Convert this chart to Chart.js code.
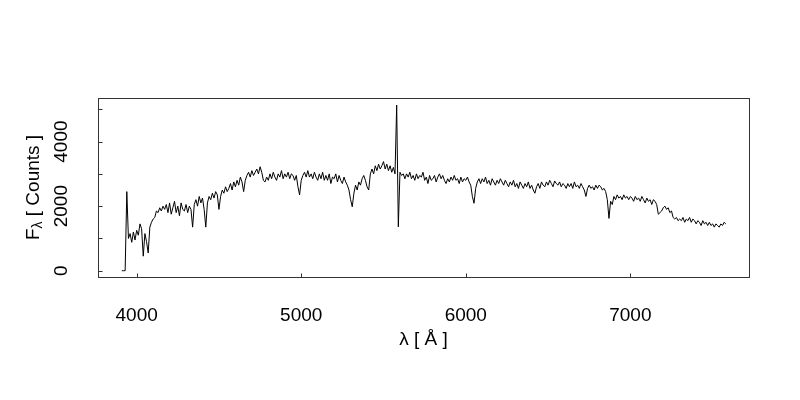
<!DOCTYPE html>
<html>
<head>
<meta charset="utf-8">
<script src="https://cdn.jsdelivr.net/npm/chart.js@4"></script>
<style>
  html, body { margin: 0; padding: 0; background: #fff; }
  #wrap { width: 800px; height: 400px; }
</style>
</head>
<body>
<div id="wrap"><canvas id="spectre" width="800" height="400"></canvas></div>
<script>
// ========== DATA ==========
// wavelength (Angstrom)
const wavelength = [
  3910, 3920, 3930, 3940, 3950, 3960, 3970, 3980, 3990, 4000,
  4010, 4020, 4030, 4040, 4050, 4060, 4070, 4080, 4090, 4100,
  4110, 4120, 4130, 4140, 4150, 4160, 4170, 4180, 4190, 4200,
  4210, 4220, 4230, 4240, 4250, 4260, 4270, 4280, 4290, 4300,
  4310, 4320, 4330, 4340, 4350, 4360, 4370, 4380, 4390, 4400,
  4410, 4420, 4430, 4440, 4450, 4460, 4470, 4480, 4490, 4500,
  4510, 4520, 4530, 4540, 4550, 4560, 4570, 4580, 4590, 4600,
  4610, 4620, 4630, 4640, 4650, 4660, 4670, 4680, 4690, 4700,
  4710, 4720, 4730, 4740, 4750, 4760, 4770, 4780, 4790, 4800,
  4810, 4820, 4830, 4840, 4850, 4860, 4870, 4880, 4890, 4900,
  4910, 4920, 4930, 4940, 4950, 4960, 4970, 4980, 4990, 5000,
  5010, 5020, 5030, 5040, 5050, 5060, 5070, 5080, 5090, 5100,
  5110, 5120, 5130, 5140, 5150, 5160, 5170, 5180, 5190, 5200,
  5210, 5220, 5230, 5240, 5250, 5260, 5270, 5280, 5290, 5300,
  5310, 5320, 5330, 5340, 5350, 5360, 5370, 5380, 5390, 5400,
  5410, 5420, 5430, 5440, 5450, 5460, 5470, 5480, 5490, 5500,
  5510, 5520, 5530, 5540, 5550, 5560, 5570, 5580, 5590, 5600,
  5610, 5620, 5630, 5640, 5650, 5660, 5670, 5680, 5690, 5700,
  5710, 5720, 5730, 5740, 5750, 5760, 5770, 5780, 5790, 5800,
  5810, 5820, 5830, 5840, 5850, 5860, 5870, 5880, 5890, 5900,
  5910, 5920, 5930, 5940, 5950, 5960, 5970, 5980, 5990, 6000,
  6010, 6020, 6030, 6040, 6050, 6060, 6070, 6080, 6090, 6100,
  6110, 6120, 6130, 6140, 6150, 6160, 6170, 6180, 6190, 6200,
  6210, 6220, 6230, 6240, 6250, 6260, 6270, 6280, 6290, 6300,
  6310, 6320, 6330, 6340, 6350, 6360, 6370, 6380, 6390, 6400,
  6410, 6420, 6430, 6440, 6450, 6460, 6470, 6480, 6490, 6500,
  6510, 6520, 6530, 6540, 6550, 6560, 6570, 6580, 6590, 6600,
  6610, 6620, 6630, 6640, 6650, 6660, 6670, 6680, 6690, 6700,
  6710, 6720, 6730, 6740, 6750, 6760, 6770, 6780, 6790, 6800,
  6810, 6820, 6830, 6840, 6850, 6860, 6870, 6880, 6890, 6900,
  6910, 6920, 6930, 6940, 6950, 6960, 6970, 6980, 6990, 7000,
  7010, 7020, 7030, 7040, 7050, 7060, 7070, 7080, 7090, 7100,
  7110, 7120, 7130, 7140, 7150, 7160, 7170, 7180, 7190, 7200,
  7210, 7220, 7230, 7240, 7250, 7260, 7270, 7280, 7290, 7300,
  7310, 7320, 7330, 7340, 7350, 7360, 7370, 7380, 7390, 7400,
  7410, 7420, 7430, 7440, 7450, 7460, 7470, 7480, 7490, 7500,
  7510, 7520, 7530, 7540, 7550, 7560, 7570, 7580
];

// flux (counts)
const flux = [
  0, 0, 0, 2450, 1000, 1150, 880, 1200, 950, 1250,
  1100, 1450, 1300, 450, 1150, 900, 550, 1350, 1500, 1600,
  1650, 1850, 1800, 1950, 1850, 2000, 1900, 2050, 1800, 2100,
  1750, 1950, 2150, 1800, 2000, 1700, 2100, 1900, 1850, 2050,
  1800, 2000, 1900, 1350, 2050, 2200, 2000, 2300, 2100, 2250,
  1900, 1350, 2100, 2300, 2200, 2400, 2250, 2450, 2350, 1900,
  2300, 2500, 2400, 2600, 2450, 2550, 2700, 2500, 2750, 2600,
  2800, 2650, 2900, 2750, 2450, 2800, 2950, 3050, 2900, 3100,
  2950, 3050, 3150, 3000, 3220, 3050, 2800, 2750, 2900, 2800,
  3000, 2850, 3050, 2900, 2800, 3000, 2900, 3100, 2850, 3000,
  2900, 3050, 2850, 3000, 2950, 2800, 2950, 2600, 2350, 2800,
  2950, 3050, 2900, 3100, 2900, 3000, 2850, 3050, 2900, 2800,
  3000, 2850, 3050, 2800, 2950, 2800, 3000, 2700, 2900, 2850,
  3000, 2750, 2950, 2800, 2700, 2900, 2750, 2650, 2500, 2200,
  1980, 2400, 2650, 2500, 2750, 2650, 2850, 2950, 2800, 2600,
  2500, 3000, 3150, 3000, 3250, 3100, 3300, 3150, 3250, 3380,
  3150, 3300, 3100, 3250, 3050, 3200, 3000, 5130, 1360, 3050,
  2950, 3000, 2850, 3000, 2900, 3050, 2850, 2950, 2800, 3000,
  2850, 2950, 2900, 3050, 2800, 2900, 2700, 2950, 2800, 2850,
  2950, 2750, 2900, 3000, 2850, 2950, 2800, 2700, 2850, 2750,
  2900, 2800, 2950, 2800, 2850, 2700, 2900, 2750, 2850, 2800,
  2900, 2750, 2650, 2300, 2090, 2550, 2750, 2850, 2700, 2850,
  2750, 2900, 2700, 2800, 2650, 2850, 2750, 2650, 2800, 2700,
  2850, 2750, 2650, 2800, 2700, 2600, 2750, 2650, 2800, 2600,
  2700, 2550, 2750, 2650, 2550, 2700, 2600, 2750, 2550, 2650,
  2500, 2400, 2600, 2700, 2550, 2750, 2650, 2600, 2750, 2650,
  2800, 2700, 2600, 2780, 2700, 2650, 2750, 2600, 2700, 2650,
  2550, 2700, 2600, 2700, 2550, 2750, 2600, 2650, 2550, 2700,
  2600, 2500, 2300, 2550, 2650, 2550, 2600, 2500, 2650, 2550,
  2650, 2600, 2500, 2550, 2450, 2200, 1620, 2150, 2050, 2300,
  2200, 2350, 2250, 2300, 2200, 2350, 2250, 2300, 2200, 2300,
  2250, 2150, 2300, 2200, 2250, 2150, 2300, 2200, 2100, 2250,
  2150, 2200, 2050, 2200, 2150, 2050, 1750, 1800, 1850, 1950,
  2000, 1900, 1950, 1800, 1850, 1650, 1600, 1650, 1550, 1600,
  1550, 1650, 1500, 1600, 1550, 1650, 1500, 1600, 1550, 1450,
  1550, 1500, 1400, 1550, 1450, 1500, 1400, 1500, 1400, 1450,
  1350, 1450, 1400, 1350, 1450, 1400, 1500, 1450
];

const xTicks = [4000, 5000, 6000, 7000];
const yTicks = [0, 1000, 2000, 3000, 4000, 5000];
const yTickLabels = [0, 2000, 4000];
const xRange = [3765, 7721];
const yRange = [-195, 5350];

// ========== EIXOS ESTILO R ==========
const FONT = '"Liberation Sans", Arial, Helvetica, sans-serif';

const eixosR = {
  id: "eixosR",
  afterDraw(chart) {
    const ctx = chart.ctx;
    const area = chart.chartArea;
    const sx = chart.scales.x;
    const sy = chart.scales.y;
    const L = Math.round(area.left) + 0.5;
    const R = Math.round(area.right) + 0.5;
    const T = Math.round(area.top) + 0.5;
    const B = Math.round(area.bottom) + 0.5;

    ctx.save();
    ctx.strokeStyle = "#333";
    ctx.lineWidth = 1;
    ctx.strokeRect(L, T, R - L, B - T);

    // ticks para dentro
    ctx.beginPath();
    xTicks.forEach(v => {
      const px = Math.round(sx.getPixelForValue(v)) + 0.5;
      ctx.moveTo(px, B);
      ctx.lineTo(px, B - 4);
    });
    yTicks.forEach(v => {
      const py = Math.round(sy.getPixelForValue(v)) + 0.5;
      ctx.moveTo(L, py);
      ctx.lineTo(L + 4, py);
    });
    ctx.stroke();

    ctx.fillStyle = "#000";
    ctx.font = "19px " + FONT;

    // rótulos x
    ctx.textAlign = "center";
    ctx.textBaseline = "alphabetic";
    xTicks.forEach(v => {
      ctx.fillText(String(v), sx.getPixelForValue(v), 321);
    });

    // rótulos y (girados)
    yTickLabels.forEach(v => {
      ctx.save();
      ctx.translate(67, sy.getPixelForValue(v));
      ctx.rotate(-Math.PI / 2);
      ctx.fillText(String(v), 0, 0);
      ctx.restore();
    });

    // título x
    ctx.fillText("λ [ Å ]", (area.left + area.right) / 2, 345);

    // título y com subscrito
    const cy = (area.top + area.bottom) / 2;
    const big = "19px " + FONT;
    const small = "14px " + FONT;
    ctx.font = big;
    const wF = ctx.measureText("F").width;
    const wRest = ctx.measureText(" [ Counts ]").width;
    ctx.font = small;
    const wSub = ctx.measureText("λ").width;
    const total = wF + wSub + wRest;
    ctx.save();
    ctx.translate(39, cy);
    ctx.rotate(-Math.PI / 2);
    ctx.textAlign = "left";
    let pos = -total / 2;
    ctx.font = big;
    ctx.fillText("F", pos, 0);
    pos += wF;
    ctx.font = small;
    ctx.fillText("λ", pos, 3);
    pos += wSub;
    ctx.font = big;
    ctx.fillText(" [ Counts ]", pos, 0);
    ctx.restore();

    ctx.restore();
  }
};

// ========== GRÁFICO ==========
const pontos = wavelength.map((w, i) => ({ x: w, y: flux[i] }));

const ctx = document.getElementById("spectre").getContext("2d");
new Chart(ctx, {
  type: "line",
  data: {
    datasets: [{
      data: pontos,
      borderColor: "#000",
      borderWidth: 1,
      pointRadius: 0,
      tension: 0,
      fill: false
    }]
  },
  options: {
    responsive: false,
    devicePixelRatio: 1,
    animation: false,
    layout: { padding: { left: 98, top: 98, right: 51, bottom: 123 } },
    plugins: { legend: { display: false }, tooltip: { enabled: false } },
    scales: {
      x: { type: "linear", min: xRange[0], max: xRange[1], display: false },
      y: { type: "linear", min: yRange[0], max: yRange[1], display: false }
    }
  },
  plugins: [eixosR]
});
</script>
</body>
</html>
